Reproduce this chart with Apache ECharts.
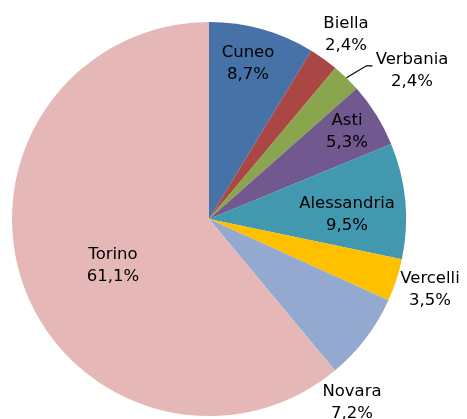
<!DOCTYPE html>
<html>
<head>
<meta charset="utf-8">
<script src="https://cdn.jsdelivr.net/npm/echarts@6/dist/echarts.min.js"></script>
<style>
  html, body { margin: 0; padding: 0; background: #fff; }
  #chart { width: 467px; height: 419px; }
</style>
</head>
<body>
<div id="chart"></div>
<script>
// province shares (%), clockwise from 12 o'clock
const provinces = ['Cuneo', 'Biella', 'Verbania', 'Asti', 'Alessandria', 'Vercelli', 'Novara', 'Torino']
const shares = [8.7, 2.4, 2.4, 5.3, 9.5, 3.5, 7.2, 61.1]
const colors = ['#4672A8', '#AA4643', '#89A54E', '#71588F', '#4198AF', '#FFC000', '#93A9CF', '#E5B8B7']

// where Excel put each label (centre of the two-line block)
const labelAt = {
  Cuneo: [248, 64],
  Biella: [346, 35],
  Verbania: [412, 71],
  Asti: [347, 132],
  Alessandria: [347, 215],
  Vercelli: [430, 290],
  Novara: [352, 403],
  Torino: [113, 266]
}

const cx = 209, cy = 219, R = 197

// leader line for Verbania: starts on the rim at the slice's mid angle
const total = shares.reduce((a, b) => a + b, 0)
const vi = provinces.indexOf('Verbania')
const before = shares.slice(0, vi).reduce((a, b) => a + b, 0)
const mid = (before + shares[vi] / 2) / total * 2 * Math.PI
const rim = [cx + R * Math.sin(mid), cy - R * Math.cos(mid)]
const elbow = [rim[0] + 20, rim[1] - 12]
const tail = [elbow[0] + 6, elbow[1]]

const chart = echarts.init(document.getElementById('chart'))

chart.setOption({
  animation: false,
  graphic: [{
    type: 'polyline',
    z: 10,
    shape: { points: [rim, elbow, tail] },
    style: { stroke: '#000', lineWidth: 1.2, fill: null }
  }],
  series: [{
    type: 'pie',
    center: [cx, cy],
    radius: R,
    startAngle: 90,
    clockwise: true,
    avoidLabelOverlap: false,
    itemStyle: { borderWidth: 0 },
    emphasis: { disabled: true },
    label: {
      show: true,
      position: 'inside',
      color: '#000',
      fontFamily: 'DejaVu Sans',
      fontSize: 16.5,
      lineHeight: 22,
      formatter: p => p.name + '\n' + p.value.toFixed(1).replace('.', ',') + '%'
    },
    labelLine: { show: false },
    labelLayout: params => {
      const pos = labelAt[provinces[params.dataIndex]]
      return { x: pos[0], y: pos[1], align: 'center', verticalAlign: 'middle' }
    },
    data: provinces.map((name, i) => ({
      name: name,
      value: shares[i],
      itemStyle: { color: colors[i] }
    }))
  }]
})
</script>
</body>
</html>
